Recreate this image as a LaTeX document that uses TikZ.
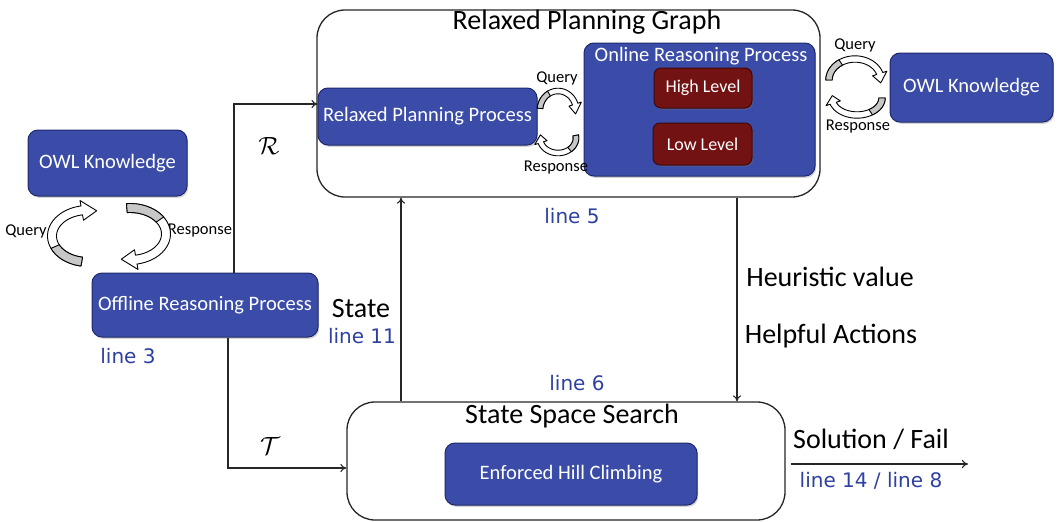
\documentclass[tikz,border=0pt]{standalone}
\usepackage{fontspec}
\setmainfont{Carlito}
\newfontfamily\dejavu{DejaVu Sans}
\usetikzlibrary{shadows,arrows.meta}
\definecolor{boxblue}{HTML}{3A4CA8}
\definecolor{boxblueline}{HTML}{1F2A6E}
\definecolor{boxred}{HTML}{731212}
\definecolor{boxredline}{HTML}{3E0808}
\definecolor{linelab}{HTML}{2E40A2}
\tikzset{
  bluebox/.style={draw=boxblueline, line width=1pt, fill=boxblue, rounded corners=10pt,
    text=white, inner sep=0pt, font=\fontsize{20.5}{23}\selectfont,
    drop shadow={opacity=0.35, shadow xshift=1.2pt, shadow yshift=-1.8pt}},
  redbox/.style={draw=boxredline, line width=1pt, fill=boxred, rounded corners=7pt,
    text=white, inner sep=0pt, font=\fontsize{18}{20}\selectfont,
    drop shadow={opacity=0.35, shadow xshift=1pt, shadow yshift=-1.5pt}},
  outerbox/.style={draw=black!85, line width=1.3pt, fill=white, rounded corners=28pt, inner sep=0pt},
  title/.style={font=\fontsize{28}{30}\selectfont, inner sep=0pt},
  biglab/.style={font=\fontsize{28}{30}\selectfont, inner sep=0pt},
  smalllab/.style={font=\fontsize{16.5}{18}\selectfont, inner sep=0pt},
  linelabel/.style={font=\dejavu\fontsize{20}{23}\selectfont, text=linelab, inner sep=0pt},
  conn/.style={draw=black!85, line width=1.1pt, -{To[length=6pt,width=8pt]}},
  ribbonstyle/.style={fill=white, draw=black, line width=0.9pt, line join=round},
  ribbongray/.style={fill=black!22, draw=black, line width=0.9pt, line join=round}
}
% curved block arrow: cx cy rx ry a1 a2 halfband headhalf headdelta
\newcommand\ribbonarrow[9]{%
  \filldraw[ribbonstyle] plot[variable=\t,domain=#5:#6,samples=30,smooth] ({#1+(#3+#7)*cos(\t)},{#2+(#4+#7)*sin(\t)})
   -- ({#1+(#3+#8)*cos(#6)},{#2+(#4+#8)*sin(#6)})
   -- ({#1+#3*cos(#6+#9)},{#2+#4*sin(#6+#9)})
   -- ({#1+(#3-#8)*cos(#6)},{#2+(#4-#8)*sin(#6)})
   -- plot[variable=\t,domain=#6:#5,samples=30,smooth] ({#1+(#3-#7)*cos(\t)},{#2+(#4-#7)*sin(\t)}) -- cycle;
  \filldraw[ribbongray] plot[variable=\t,domain=#5:{#5+(#6-#5)*0.35},samples=20,smooth] ({#1+(#3+#7)*cos(\t)},{#2+(#4+#7)*sin(\t)})
   -- plot[variable=\t,domain={#5+(#6-#5)*0.35}:#5,samples=20,smooth] ({#1+(#3-#7)*cos(\t)},{#2+(#4-#7)*sin(\t)}) -- cycle;
}
\begin{document}
\begin{tikzpicture}[x=1pt,y=-1pt]
\useasboundingbox (0,0) rectangle (1058,522);

% outer containers
\node[outerbox, minimum width=503pt, minimum height=187pt] (rpg) at (568.5,103.5) {};
\node[title] (rpgtitle) at (587,22) {Relaxed Planning Graph};
\node[outerbox, minimum width=438pt, minimum height=118pt] (sss) at (566,461) {};
\node[title] (ssstitle) at (572,416) {State Space Search};

% blue boxes
\node[bluebox, minimum width=159pt, minimum height=66pt] (owlL) at (107.5,163) {OWL Knowledge};
\node[bluebox, minimum width=226pt, minimum height=64pt] (offline) at (205,305) {Offline Reasoning Process};
\node[bluebox, minimum width=219pt, minimum height=57pt] (rpp) at (427.5,116.5) {Relaxed Planning Process};
\node[bluebox, minimum width=231pt, minimum height=133pt] (orp) at (699.5,109.5) {};
\node[inner sep=0pt, text=white, font=\fontsize{20.5}{23}\selectfont] (orptitle) at (701,56) {Online Reasoning Process};
\node[redbox, minimum width=98pt, minimum height=40pt] (high) at (703,88) {High Level};
\node[redbox, minimum width=99pt, minimum height=42pt] (low) at (702.5,144) {Low Level};
\node[bluebox, minimum width=163pt, minimum height=69pt] (owlR) at (971.5,87.5) {OWL Knowledge};
\node[bluebox, minimum width=252pt, minimum height=62pt] (ehc) at (571,474) {Enforced Hill Climbing};

% connectors
\draw[conn] ([xshift=29pt]offline.north) |- ([yshift=12.5pt]rpp.west);
\draw[conn] ([xshift=23pt]offline.south) |- ([yshift=-7pt]sss.west);
\coordinate (sT) at ([xshift=-165pt]sss.north);
\draw[conn] (sT) -- (sT |- rpg.south);
\coordinate (hT) at ([xshift=168.5pt]rpg.south);
\draw[conn] (hT) -- (hT |- sss.north);
\coordinate (outS) at ([xshift=5pt,yshift=-3pt]sss.east);
\coordinate (outE) at (968,464);
\draw[conn] (outS) -- (outE);

% labels
\node[font=\fontsize{28}{30}\selectfont, inner sep=0pt] (Rlab) at (269,146) {$\mathcal{R}$};
\node[font=\fontsize{28}{30}\selectfont, inner sep=0pt] (Tlab) at (270,446) {$\mathcal{T}$};
\node[biglab] (statelab) at (361,309) {State};
\node[linelabel] (l11) at (362,336) {line 11};
\node[linelabel] (l5) at (572,216) {line 5};
\node[linelabel] (l6) at (577,383) {line 6};
\node[linelabel] (l3) at (128,356) {line 3};
\node[biglab] (heur) at (830,277) {Heuristic value};
\node[biglab] (help) at (831,336) {Helpful Actions};
\node[biglab] (sol) at (871,439) {Solution / Fail};
\node[linelabel] (l14) at (871,481) {line 14 / line 8};

\node[smalllab] (qL) at (26,231) {Query};
\node[smalllab] (rL) at (200,231) {Response};
\node[smalllab] (qM) at (557,78) {Query};
\node[smalllab] (rM) at (556,168) {Response};
\node[smalllab] (qR) at (855,45) {Query};
\node[smalllab] (rR) at (858,127) {Response};

% curved block arrows
\ribbonarrow{88}{236}{36}{26}{100}{260}{4.5}{10}{24}
\ribbonarrow{130}{234}{36}{26}{-95}{80}{4.5}{10}{24}
\ribbonarrow{558}{110}{18}{19}{185}{342}{2.8}{6.5}{30}
\ribbonarrow{558}{138}{18}{15}{-10}{162}{2.8}{6.5}{30}
\ribbonarrow{855}{80}{26}{21}{180}{342}{3.2}{7.5}{26}
\ribbonarrow{857}{98}{25}{17}{0}{162}{3.2}{7.5}{26}
\end{tikzpicture}
\end{document}
